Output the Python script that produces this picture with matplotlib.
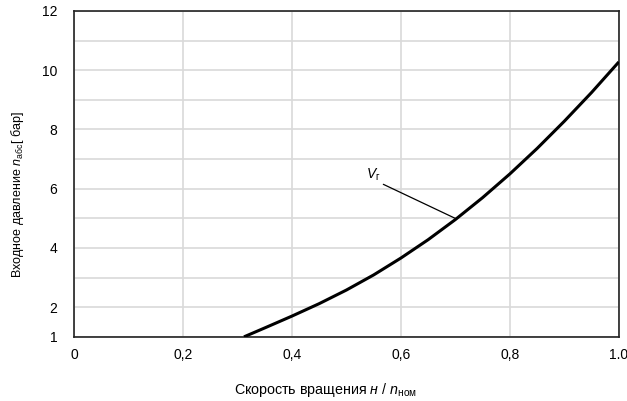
import matplotlib
matplotlib.use('Agg')
import matplotlib.pyplot as plt

plt.rcParams['font.family'] = ['Liberation Sans', 'DejaVu Sans']
plt.rcParams['mathtext.fontset'] = 'custom'
plt.rcParams['mathtext.rm'] = 'Liberation Sans'
plt.rcParams['mathtext.it'] = 'Liberation Sans:italic'

# curve (speed ratio vs inlet pressure)
speed = [0.312, 0.35, 0.4, 0.45, 0.5, 0.55, 0.6, 0.65, 0.7, 0.75, 0.8, 0.85, 0.9, 0.95, 1.0]
pressure = [1.0, 1.30, 1.70, 2.12, 2.58, 3.09, 3.66, 4.28, 4.96, 5.70, 6.50, 7.36, 8.28, 9.25, 10.28]

xticks = [0, 0.2, 0.4, 0.6, 0.8, 1.0]
xticklabels = ['0', '0,2', '0,4', '0,6', '0,8', '1.0']
yticks = [1, 2, 4, 6, 8, 10, 12]
yminor = [3, 5, 7, 9, 11]

fig = plt.figure(figsize=(6.27, 4.01), dpi=100)
ax = fig.add_axes([0.118, 0.160, 0.869, 0.8126])

ax.plot(speed, pressure, color='black', lw=2.2, solid_capstyle='butt',
        solid_joinstyle='round', zorder=3)

ax.set_xlim(0, 1.0)
ax.set_ylim(1, 12)
ax.set_xticks(xticks)
ax.set_xticklabels(xticklabels)
ax.set_yticks(yticks)
ax.set_yticks(yminor, minor=True)
ax.grid(True, which='both', color='#d9d9d9', lw=1.2)
ax.set_axisbelow(True)
ax.tick_params(which='both', length=0, labelsize=10)
ax.tick_params(axis='x', pad=8)
ax.tick_params(axis='y', pad=12)
for s in ax.spines.values():
    s.set_color('#222222')
    s.set_linewidth(1.2)

# label of the curve with leader line
ax.annotate(r'$V_{\mathrm{г}}$', xy=(0.702, 4.98), xytext=(0.536, 6.47),
            fontsize=10, ha='left', va='center',
            arrowprops=dict(arrowstyle='-', color='black', lw=0.9,
                            shrinkA=0, shrinkB=0, relpos=(1.0, 0.0)))

fig.text(0.519, 1 - 390 / 401, r'Скорость вращения $н\ /\ n_{\mathrm{ном}}$',
         ha='center', va='center', fontsize=10.3)
fig.text(18 / 627, 1 - 195 / 401, r'Входное давление $n_{\mathrm{абс}}$[ бар]',
         ha='center', va='center', rotation=90, fontsize=9)

fig.savefig('out.png', dpi=100)
